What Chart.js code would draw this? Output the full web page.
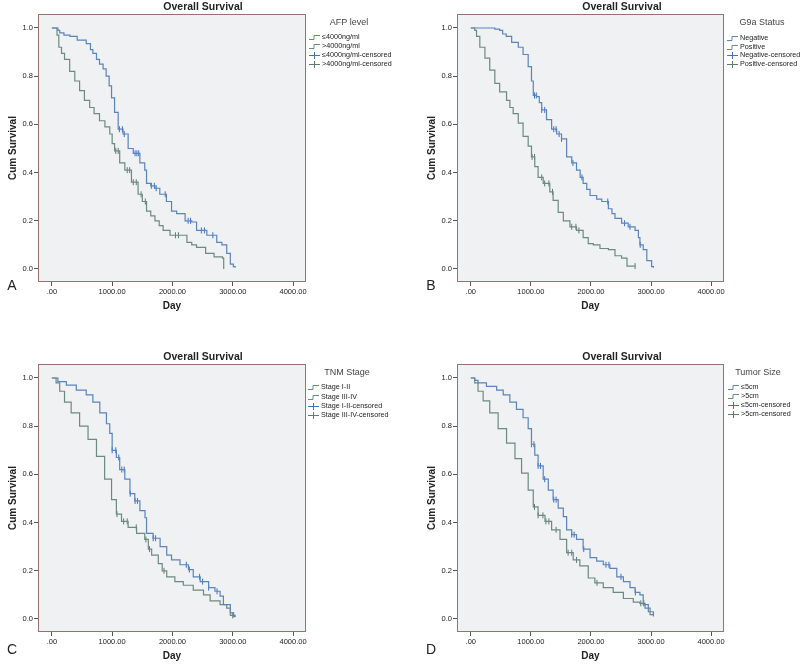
<!DOCTYPE html>
<html>
<head>
<meta charset="utf-8">
<script src="https://cdn.jsdelivr.net/npm/chart.js@4.4.1/dist/chart.umd.min.js"></script>
<style>
  body { margin: 0; background: #fff; width: 800px; height: 665px; position: relative; overflow: hidden; }
  canvas { position: absolute; }
</style>
</head>
<body>
<canvas id="cA" width="400" height="330" style="left:0;top:0"></canvas>
<canvas id="cB" width="400" height="330" style="left:400px;top:0"></canvas>
<canvas id="cC" width="400" height="335" style="left:0;top:330px"></canvas>
<canvas id="cD" width="400" height="335" style="left:400px;top:330px"></canvas>
<script>
// axes
const xTicks = [0, 1000, 2000, 3000, 4000];
const yTicks = [0, 0.2, 0.4, 0.6, 0.8, 1.0];

// A - AFP level
const afpLowDays = [0, 100, 130, 200, 300, 420, 570, 640, 680, 740, 790, 850, 900, 950, 990, 1040, 1100, 1180, 1265, 1350, 1460, 1540, 1570, 1640, 1710, 1790, 1900, 1985, 2070, 2210, 2320, 2400, 2570, 2735, 2820, 2900, 2960, 3010, 3040];
const afpLowSurv = [1.0, 0.99, 0.98, 0.97, 0.965, 0.95, 0.935, 0.91, 0.895, 0.87, 0.85, 0.83, 0.80, 0.76, 0.71, 0.65, 0.58, 0.56, 0.50, 0.48, 0.44, 0.41, 0.355, 0.345, 0.335, 0.31, 0.28, 0.24, 0.23, 0.20, 0.195, 0.16, 0.14, 0.11, 0.10, 0.065, 0.02, 0.01, 0.005];
const afpHighDays = [0, 85, 115, 160, 210, 295, 380, 460, 540, 627, 700, 790, 880, 960, 1000, 1040, 1125, 1210, 1320, 1430, 1500, 1570, 1640, 1710, 1780, 1845, 1960, 2240, 2320, 2400, 2550, 2690, 2830, 2850];
const afpHighSurv = [1.0, 0.97, 0.92, 0.895, 0.87, 0.82, 0.78, 0.74, 0.70, 0.67, 0.645, 0.615, 0.59, 0.56, 0.52, 0.49, 0.44, 0.41, 0.36, 0.31, 0.28, 0.24, 0.22, 0.20, 0.18, 0.16, 0.14, 0.11, 0.10, 0.09, 0.065, 0.05, 0.045, 0.0];
const afpLowCens = [1120, 1170, 1200, 1380, 1410, 1440, 1650, 1700, 1730, 1880, 2260, 2300, 2480, 2530, 2670];
const afpHighCens = [1060, 1100, 1250, 1290, 1350, 1400, 1480, 1550, 2050, 2100];

// B - G9a Status
const negDays = [0, 400, 480, 530, 590, 680, 790, 870, 955, 1010, 1040, 1095, 1140, 1180, 1260, 1345, 1430, 1510, 1595, 1680, 1760, 1820, 1870, 1930, 1985, 2095, 2180, 2290, 2350, 2400, 2510, 2620, 2735, 2790, 2815, 2870, 2930, 3010, 3040];
const negSurv = [1.0, 0.995, 0.99, 0.975, 0.965, 0.94, 0.92, 0.89, 0.84, 0.78, 0.72, 0.715, 0.69, 0.66, 0.62, 0.58, 0.56, 0.54, 0.465, 0.44, 0.41, 0.38, 0.355, 0.33, 0.305, 0.29, 0.28, 0.25, 0.23, 0.21, 0.19, 0.175, 0.16, 0.13, 0.10, 0.08, 0.035, 0.01, 0.005];
const posDays = [0, 65, 95, 150, 235, 315, 400, 480, 595, 650, 705, 790, 870, 955, 1010, 1065, 1120, 1205, 1315, 1370, 1455, 1540, 1650, 1760, 1870, 1955, 2040, 2150, 2290, 2400, 2510, 2600, 2735];
const posSurv = [1.0, 0.99, 0.965, 0.92, 0.875, 0.825, 0.77, 0.735, 0.70, 0.67, 0.645, 0.605, 0.55, 0.51, 0.465, 0.425, 0.38, 0.355, 0.32, 0.285, 0.235, 0.20, 0.175, 0.16, 0.13, 0.105, 0.10, 0.085, 0.08, 0.055, 0.045, 0.012, 0.012];
const negCens = [1060, 1090, 1180, 1230, 1380, 1420, 1470, 1510, 1700, 1850, 2280, 2560, 2650, 2820];
const posCens = [1020, 1060, 1180, 1230, 1300, 1360, 1680, 1750, 1800, 2735];

// C - TNM Stage
const earlyDays = [0, 100, 240, 405, 570, 680, 795, 905, 960, 1000, 1070, 1125, 1210, 1295, 1375, 1460, 1545, 1570, 1680, 1795, 1905, 1985, 2125, 2265, 2345, 2460, 2600, 2705, 2790, 2845, 2960, 3015, 3040];
const earlySurv = [1.0, 0.985, 0.97, 0.95, 0.93, 0.90, 0.855, 0.81, 0.77, 0.70, 0.67, 0.62, 0.58, 0.52, 0.49, 0.45, 0.42, 0.355, 0.335, 0.30, 0.265, 0.245, 0.225, 0.205, 0.175, 0.155, 0.13, 0.115, 0.095, 0.06, 0.025, 0.01, 0.01];
const lateDays = [0, 70, 130, 210, 320, 460, 600, 740, 875, 990, 1070, 1155, 1265, 1405, 1540, 1600, 1655, 1765, 1830, 1905, 2040, 2180, 2345, 2515, 2625, 2790, 2900, 2960, 3040];
const lateSurv = [1.0, 0.98, 0.945, 0.90, 0.855, 0.80, 0.745, 0.675, 0.58, 0.495, 0.435, 0.405, 0.38, 0.355, 0.33, 0.29, 0.265, 0.23, 0.20, 0.175, 0.155, 0.14, 0.12, 0.10, 0.075, 0.06, 0.045, 0.015, 0.008];
const earlyCens = [1000, 1060, 1110, 1160, 1200, 1300, 1380, 1420, 1680, 1720, 2230, 2280, 2450, 2500, 2600, 2740];
const lateCens = [1080, 1190, 1250, 1400, 1560, 1620, 1860, 3000];

// D - Tumor Size
const smallDays = [0, 65, 120, 260, 430, 540, 650, 760, 870, 955, 1010, 1065, 1120, 1205, 1290, 1370, 1455, 1540, 1595, 1680, 1760, 1870, 1985, 2095, 2205, 2315, 2430, 2540, 2650, 2735, 2815, 2870, 2955, 3040];
const smallSurv = [1.0, 0.99, 0.98, 0.965, 0.95, 0.93, 0.90, 0.87, 0.835, 0.79, 0.725, 0.68, 0.635, 0.58, 0.535, 0.495, 0.46, 0.425, 0.37, 0.35, 0.33, 0.29, 0.255, 0.24, 0.225, 0.21, 0.175, 0.155, 0.13, 0.11, 0.10, 0.06, 0.03, 0.015];
const largeDays = [0, 65, 120, 205, 315, 455, 595, 735, 845, 955, 1040, 1120, 1235, 1345, 1485, 1595, 1705, 1815, 1955, 2065, 2205, 2370, 2540, 2705, 2815, 2900, 2985, 3040];
const largeSurv = [1.0, 0.98, 0.945, 0.905, 0.855, 0.79, 0.73, 0.665, 0.605, 0.535, 0.465, 0.43, 0.405, 0.37, 0.33, 0.275, 0.245, 0.22, 0.17, 0.15, 0.13, 0.11, 0.085, 0.07, 0.065, 0.045, 0.018, 0.01];
const smallCens = [1010, 1050, 1120, 1160, 1230, 1380, 1420, 1680, 1720, 1880, 2250, 2300, 2500, 2740];
const largeCens = [1060, 1120, 1200, 1250, 1300, 1420, 1620, 1680, 1760, 2100, 2830, 2880];

const blue = '#5a84bd', blueMark = '#3d72c4';
const green = '#6e8a80', greenMark = '#5f7a70';
const fam = '"Liberation Sans", Arial, sans-serif';

function survAt(days, surv, t) {
    let s = surv[0];
    for (let i = 0; i < days.length; i++) if (days[i] <= t) s = surv[i];
    return s;
}

function curve(days, surv, color) {
    return {
        type: 'line', data: days.map((d, i) => ({ x: d, y: surv[i] })),
        stepped: true, borderColor: color, borderWidth: 1.2, pointRadius: 0, fill: false,
    };
}

function censored(cens, days, surv, color) {
    return {
        type: 'scatter', data: cens.map(t => ({ x: t, y: survAt(days, surv, t) })),
        pointStyle: 'line', rotation: 90, pointRadius: 3, borderColor: color, borderWidth: 1,
    };
}

function makePanel(id, p) {
    const deco = {
        id: 'deco' + id,
        beforeDraw(chart) {
            const { ctx, chartArea: a } = chart;
            ctx.save();
            ctx.fillStyle = '#eff1f2';
            ctx.fillRect(a.left, a.top, a.right - a.left, a.bottom - a.top);
            ctx.restore();
        },
        afterDraw(chart) {
            const { ctx, chartArea: a } = chart;
            ctx.save();
            ctx.strokeStyle = '#9c6f6f';
            ctx.lineWidth = 1;
            ctx.strokeRect(a.left + 0.5, a.top + 0.5, a.right - a.left - 1, a.bottom - a.top - 1);
            ctx.textBaseline = 'middle';
            ctx.fillStyle = '#222';
            ctx.textAlign = 'center';
            ctx.font = 'bold 10.5px ' + fam;
            ctx.fillText('Overall Survival', p.titleX, p.titleY);
            ctx.font = '9px ' + fam;
            ctx.fillStyle = '#444';
            ctx.fillText(p.legendTitle, p.legTitleX, p.legTitleY);
            ctx.textAlign = 'left';
            ctx.font = '7.2px ' + fam;
            const cols = [blue, green, blueMark, greenMark];
            p.labels.forEach((lab, i) => {
                const y = p.legY[i], x = p.legX;
                ctx.strokeStyle = cols[i];
                ctx.beginPath();
                if (i < 2) {
                    ctx.moveTo(x, y + 2.5); ctx.lineTo(x + 5, y + 2.5);
                    ctx.lineTo(x + 5, y - 1.5); ctx.lineTo(x + 11, y - 1.5);
                } else {
                    ctx.moveTo(x, y + 0.5); ctx.lineTo(x + 11, y + 0.5);
                    ctx.moveTo(x + 5.5, y - 3); ctx.lineTo(x + 5.5, y + 4);
                }
                ctx.stroke();
                ctx.fillStyle = '#222';
                ctx.fillText(lab, x + 13, y);
            });
            ctx.font = '14px ' + fam;
            ctx.fillStyle = '#222';
            ctx.textAlign = 'center';
            ctx.fillText(p.letter, p.letterX, p.letterY);
            ctx.restore();
        },
    };
    const tickFont = { family: fam, size: 7.5 };
    const titleFont = { family: fam, size: 10, weight: 'bold' };
    new Chart(document.getElementById(id), {
        type: 'line',
        data: { datasets: p.datasets },
        options: {
            responsive: false,
            animation: false,
            layout: { padding: p.pad },
            plugins: { legend: { display: false }, tooltip: { enabled: false } },
            scales: {
                x: {
                    type: 'linear', min: -230, max: 4215,
                    afterBuildTicks: s => { s.ticks = xTicks.map(v => ({ value: v })); },
                    afterFit: s => { s.height = 33; },
                    ticks: { callback: v => v === 0 ? '.00' : v.toFixed(2), font: tickFont, color: '#222', padding: 1, maxRotation: 0, autoSkip: false },
                    grid: { drawOnChartArea: false, tickLength: 4, color: '#555' },
                    border: { display: false },
                    title: { display: true, text: 'Day', font: titleFont, color: '#222', padding: { top: 0, bottom: 3 } },
                },
                y: {
                    type: 'linear', min: -0.054, max: 1.058,
                    afterBuildTicks: s => { s.ticks = yTicks.map(v => ({ value: v })); },
                    afterFit: s => { s.width = 38; },
                    ticks: { callback: v => v.toFixed(1), font: tickFont, color: '#222', padding: 1 },
                    grid: { drawOnChartArea: false, tickLength: 4, color: '#555' },
                    border: { display: false },
                    title: { display: true, text: 'Cum Survival', font: titleFont, color: '#222', padding: { top: 7, bottom: 0 } },
                },
            },
        },
        plugins: [deco],
    });
}

makePanel('cA', {
    datasets: [
        curve(afpLowDays, afpLowSurv, blue), curve(afpHighDays, afpHighSurv, green),
        censored(afpLowCens, afpLowDays, afpLowSurv, blueMark), censored(afpHighCens, afpHighDays, afpHighSurv, greenMark),
    ],
    pad: { left: 0, right: 94, top: 14, bottom: 15 },
    titleX: 203, titleY: 7,
    legendTitle: 'AFP level', legTitleX: 349, legTitleY: 23,
    labels: ['≤4000ng/ml', '>4000ng/ml', '≤4000ng/ml-censored', '>4000ng/ml-censored'],
    legX: 309, legY: [37, 46, 55, 64],
    letter: 'A', letterX: 12, letterY: 286,
});

makePanel('cB', {
    datasets: [
        curve(negDays, negSurv, blue), curve(posDays, posSurv, green),
        censored(negCens, negDays, negSurv, blueMark), censored(posCens, posDays, posSurv, greenMark),
    ],
    pad: { left: 19, right: 76, top: 14, bottom: 15 },
    titleX: 222, titleY: 7,
    legendTitle: 'G9a Status', legTitleX: 362, legTitleY: 23,
    labels: ['Negative', 'Positive', 'Negative-censored', 'Positive-censored'],
    legX: 327, legY: [38, 47, 55, 64],
    letter: 'B', letterX: 31, letterY: 286,
});

makePanel('cC', {
    datasets: [
        curve(earlyDays, earlySurv, blue), curve(lateDays, lateSurv, green),
        censored(earlyCens, earlyDays, earlySurv, blueMark), censored(lateCens, lateDays, lateSurv, greenMark),
    ],
    pad: { left: 0, right: 94, top: 34, bottom: 0 },
    titleX: 203, titleY: 27,
    legendTitle: 'TNM Stage', legTitleX: 347, legTitleY: 43,
    labels: ['Stage I-II', 'Stage III-IV', 'Stage I-II-censored', 'Stage III-IV-censored'],
    legX: 308, legY: [57, 67, 76, 85],
    letter: 'C', letterX: 12, letterY: 320,
});

makePanel('cD', {
    datasets: [
        curve(smallDays, smallSurv, blue), curve(largeDays, largeSurv, green),
        censored(smallCens, smallDays, smallSurv, blueMark), censored(largeCens, largeDays, largeSurv, greenMark),
    ],
    pad: { left: 19, right: 76, top: 34, bottom: 0 },
    titleX: 222, titleY: 27,
    legendTitle: 'Tumor Size', legTitleX: 358, legTitleY: 43,
    labels: ['≤5cm', '>5cm', '≤5cm-censored', '>5cm-censored'],
    legX: 328, legY: [57, 66, 75, 84],
    letter: 'D', letterX: 31, letterY: 320,
});
</script>
</body>
</html>
